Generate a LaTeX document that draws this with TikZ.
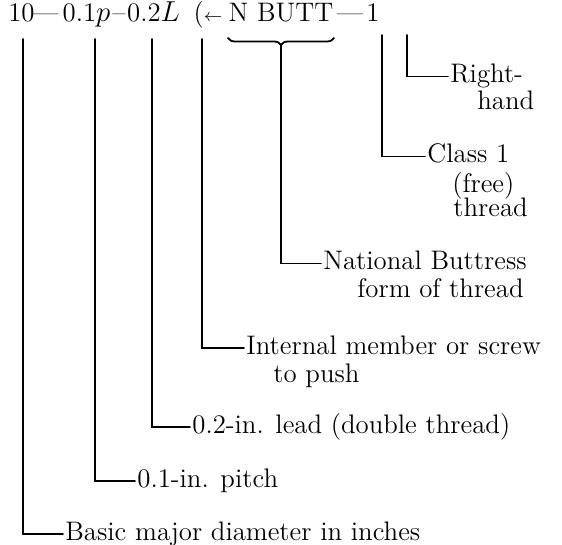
\documentclass[tikz,border=0pt]{standalone}
\usepackage{amsmath}
\usetikzlibrary{decorations.pathreplacing}
\begin{document}
\begin{tikzpicture}[x=0.5pt,y=-0.5pt,line cap=round,
 leader/.style={line width=0.9pt},
 tok/.style={anchor=base,inner sep=0pt,font=\fontsize{13.4}{16}\selectfont},
 lbl/.style={anchor=base west,inner xsep=1pt,inner ysep=0pt,text height=6.4pt,text depth=0pt,font=\fontsize{13.4}{16}\selectfont}]
\useasboundingbox (0,0) rectangle (562,545);
\node[tok] (ten) at (21.5,22) {10};
\node[tok] (dashA) at (45.5,22) {---};
\node[tok] (ptok) at (86.5,22) {0.1$p$};
\node[tok] (dashB) at (119,22) {--};
\node[tok] (ltok) at (153.5,22) {0.2$L$};
\node[tok] (dirtok) at (208,22) {($\scriptstyle\leftarrow$};
\node[tok] (formtok) at (281,22) {N BUTT};
\node[tok] (dashC) at (350,22) {---};
\node[tok] (classtok) at (373,22) {1};
\coordinate (c10) at (23,39);
\coordinate (cpitch) at (95,39);
\coordinate (clead) at (152,39);
\coordinate (cdir) at (202,39);
\coordinate (cform) at (281,45);
\coordinate (cclass) at (382,35);
\coordinate (chand) at (407,35);
\node[lbl] (hand) at (448,83) {Right-};
\node[lbl] (hand2) at (475,110) {hand};
\node[lbl] (class) at (425,163) {Class 1};
\node[lbl] (class2) at (450,193) {(free)};
\node[lbl] (class3) at (451,217) {thread};
\node[lbl] (form) at (321,270) {National Buttress};
\node[lbl] (form2) at (355,298) {form of thread};
\node[lbl] (dir) at (244,354) {Internal member or screw};
\node[lbl] (dir2) at (271,382) {to push};
\node[lbl] (lead) at (190,433) {0.2-in. lead (double thread)};
\node[lbl] (pitch) at (135,487) {0.1-in. pitch};
\node[lbl] (basic) at (63,540) {Basic major diameter in inches};
\draw[leader,decorate,decoration={brace,mirror,amplitude=3.5pt}] (228,38) -- (334,38);
\draw[leader] (chand) |- (hand.west);
\draw[leader] (cclass) |- (class.west);
\draw[leader] (cform) |- (form.west);
\draw[leader] (cdir) |- (dir.west);
\draw[leader] (clead) |- (lead.west);
\draw[leader] (cpitch) |- (pitch.west);
\draw[leader] (c10) |- (basic.west);
\end{tikzpicture}
\end{document}
